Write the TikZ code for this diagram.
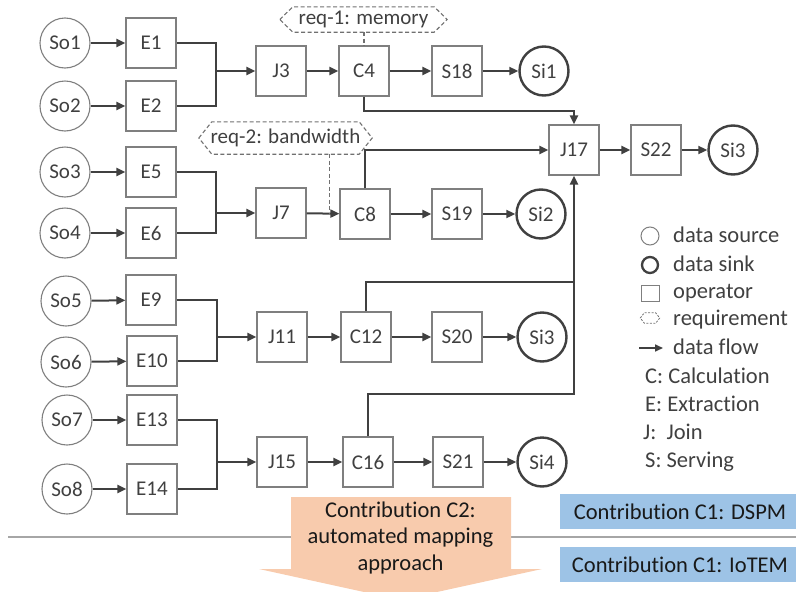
\documentclass[tikz,border=0pt]{standalone}
\usepackage{fontspec}
\setmainfont{Carlito}[Ligatures=NoCommon]
\usetikzlibrary{arrows.meta,calc}
\definecolor{ink}{HTML}{404040}
\definecolor{frame}{HTML}{7F7F7F}
\definecolor{reqgray}{HTML}{707070}
\definecolor{peach}{HTML}{F8CBAD}
\definecolor{skyblue}{HTML}{9DC3E6}
\definecolor{rulegray}{HTML}{A6A6A6}
\begin{document}
\begin{tikzpicture}[x=1pt,y=-1pt,
  font=\fontsize{21}{25}\selectfont, text=ink,
  op/.style={draw=frame,line width=1.2pt,minimum width=50pt,minimum height=50pt,inner sep=0pt},
  src/.style={circle,draw=frame,line width=1.1pt,minimum size=50pt,inner sep=0pt},
  sink/.style={circle,draw=ink,line width=2.4pt,minimum size=49pt,inner sep=0pt},
  flow/.style={draw=ink,line width=2pt,-{Triangle[length=9pt,width=8pt]}},
  link/.style={draw=ink,line width=2pt},
  reqline/.style={draw=reqgray,line width=1.1pt,dash pattern=on 4pt off 2.5pt},
  req/.style={inner sep=0pt,minimum height=25pt},
  legtext/.style={anchor=base west,inner sep=0pt,font=\fontsize{22.5}{27}\selectfont},
  contrib/.style={anchor=base,inner sep=0pt,text=black!90,font=\fontsize{22.5}{27}\selectfont},
]
\clip (0,0) rectangle (796,592);

% separator between the two layers
\draw[rulegray,line width=1.2pt] (8,537) -- (796,537);

% ---------- pipeline 1 ----------
\node[src] (so1) at (65,43) {So1};
\node[op]  (e1)  at (151,43) {E1};
\node[src] (so2) at (65,106) {So2};
\node[op]  (e2)  at (151,106) {E2};
\node[op]  (j3)  at (281,71) {J3};
\node[op]  (c4)  at (364,71) {C4};
\node[op]  (s18) at (457,71) {S18};
\node[sink] (si1) at (544,71) {Si1};

% ---------- pipeline 2 ----------
\node[src] (so3) at (65,172) {So3};
\node[op]  (e5)  at (151,172) {E5};
\node[src] (so4) at (65,233) {So4};
\node[op]  (e6)  at (151,233) {E6};
\node[op]  (j7)  at (281,213) {J7};
\node[op]  (c8)  at (365,214) {C8};
\node[op]  (s19) at (457,214) {S19};
\node[sink] (si2) at (541,214) {Si2};

% ---------- pipeline 3 ----------
\node[src] (so5) at (66,301) {So5};
\node[op]  (e9)  at (151,300) {E9};
\node[src] (so6) at (66,362) {So6};
\node[op]  (e10) at (152,361) {E10};
\node[op]  (j11) at (282,337) {J11};
\node[op]  (c12) at (366,337) {C12};
\node[op]  (s20) at (457,337) {S20};
\node[sink] (si3b) at (542,337) {Si3};

% ---------- pipeline 4 ----------
\node[src] (so7) at (67,420) {So7};
\node[op]  (e13) at (152,420) {E13};
\node[src] (so8) at (67,489) {So8};
\node[op]  (e14) at (152,489) {E14};
\node[op]  (j15) at (282,462) {J15};
\node[op]  (c16) at (368,462) {C16};
\node[op]  (s21) at (458,462) {S21};
\node[sink] (si4) at (542,462) {Si4};

% ---------- merged join ----------
\node[op]  (j17) at (574,150) {J17};
\node[op]  (s22) at (656,150) {S22};
\node[sink] (si3) at (733,150) {Si3};

% merge points in front of the joins
\coordinate (m3)  at (216,71);
\coordinate (m7)  at (216,213);
\coordinate (m11) at (217,337);
\coordinate (m15) at (217,462);

% sources to extractions
\foreach \s/\e in {so1/e1,so2/e2,so3/e5,so4/e6,so5/e9,so6/e10,so7/e13,so8/e14}
  \draw[flow] (\s) -- (\e);

% extractions to joins
\foreach \a/\b/\m/\j in {e1/e2/m3/j3,e5/e6/m7/j7,e9/e10/m11/j11,e13/e14/m15/j15}{
  \draw[link] (\a.east) -| (\m) |- (\b.east);
  \draw[flow] (\m) -- (\j);
}

% straight chains
\foreach \a/\b in {j3/c4,c4/s18,s18/si1,j7/c8,c8/s19,s19/si2,j11/c12,c12/s20,s20/si3b,
                   j15/c16,c16/s21,s21/si4,j17/s22,s22/si3}
  \draw[flow] (\a) -- (\b);

% calculations feeding J17
\coordinate (t4)  at (574,111);
\coordinate (t12) at (574,282);
\coordinate (t16) at (574,394);
\draw[flow] (c4.south) |- (t4) -- (j17.north);
\draw[flow] (c8.north) |- (j17.west);
\draw[link] (c12.north) |- (t12);
\draw[flow] (c16.north) |- (t16) -- (j17.south);

% requirements
\node[req,minimum width=167pt] (req1) at (363.5,19.5) {req-1: memory};
\node[req,minimum width=173pt,minimum height=32pt] (req2) at (285.5,138) {req-2: bandwidth};
\foreach \r in {req1,req2}
  \draw[reqline] (\r.west) -- ([xshift=13pt]\r.north west) -- ([xshift=-13pt]\r.north east)
    -- (\r.east) -- ([xshift=-13pt]\r.south east) -- ([xshift=13pt]\r.south west) -- cycle;
\draw[reqline] (req1.south -| c4.north) -- (c4.north);
\coordinate (r2) at ($(j7.east)!.7!(c8.west)$);
\draw[reqline] (req2.south -| r2) -- (r2);

% ---------- legend ----------
\node[circle,draw=frame,line width=1pt,minimum size=18pt,inner sep=0pt] (lsrc) at (650,236) {};
\node[circle,draw=ink,line width=2.3pt,minimum size=16pt,inner sep=0pt] (lsink) at (650,265) {};
\node[draw=frame,line width=1pt,minimum width=18pt,minimum height=16pt,inner sep=0pt] (lop) at (650,293) {};
\node[inner sep=0pt,minimum width=19pt,minimum height=10pt] (lreq) at (650,318) {};
\draw[draw=reqgray,line width=0.8pt,dash pattern=on 2pt off 1.5pt]
  (lreq.west) -- ([xshift=4pt]lreq.north west) -- ([xshift=-4pt]lreq.north east)
  -- (lreq.east) -- ([xshift=-4pt]lreq.south east) -- ([xshift=4pt]lreq.south west) -- cycle;
\coordinate (lfa) at (639,348);
\coordinate (lfb) at (663,348);
\draw[draw=ink,line width=1.6pt,-{Triangle[length=8pt,width=7pt]}] (lfa) -- (lfb);

\node[legtext] (tsrc)  at (673,242) {data source};
\node[legtext] (tsink) at (673,271) {data sink};
\node[legtext] (top)   at (673,298) {operator};
\node[legtext] (treq)  at (673,325) {requirement};
\node[legtext] (tflow) at (673,354) {data flow};
\node[legtext] (tc)    at (645,383) {C: Calculation};
\node[legtext] (te)    at (645,411) {E: Extraction};
\node[legtext] (tj)    at (643,439) {J:\ \ Join};
\node[legtext] (ts)    at (645,467) {S: Serving};

% ---------- contributions ----------
\fill[peach] (291,497) -- (511,497) -- (511,569) -- (542,569) -- (400.5,600)
  -- (259,569) -- (291,569) -- cycle;
\node[contrib] (c2a) at (400.5,517) {Contribution C2:};
\node[contrib] (c2b) at (400.5,543.5) {automated mapping};
\node[contrib] (c2c) at (400.5,570) {approach};

\node[fill=skyblue,minimum width=240pt,minimum height=35pt,inner sep=0pt,text=black!90,
      font=\fontsize{22.5}{27}\selectfont] (dspm) at (680,511.5) {Contribution C1: DSPM};
\node[fill=skyblue,minimum width=240pt,minimum height=35pt,inner sep=0pt,text=black!90,
      font=\fontsize{22.5}{27}\selectfont] (iotem) at (680,564.5) {Contribution C1: IoTEM};
\end{tikzpicture}
\end{document}
